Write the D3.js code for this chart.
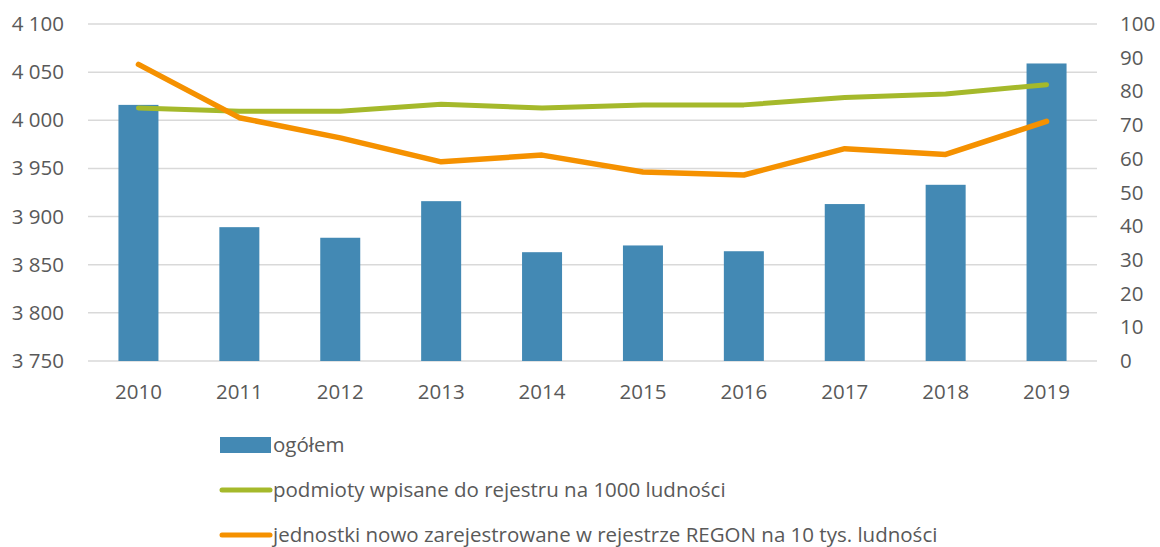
<!DOCTYPE html>
<html><head><meta charset="utf-8">
<script src="https://cdn.jsdelivr.net/npm/d3@7"></script>
<style>body{margin:0;background:#fff}text{font-family:"Open Sans",sans-serif;fill:#595959}</style>
</head><body><svg id="c" width="1160" height="547"></svg>
<script>
const years = ["2010","2011","2012","2013","2014","2015","2016","2017","2018","2019"];
const ogolem = [4016,3889,3878,3916,3863,3870,3864,3913,3933,4059];
const podmioty = [75.1,74.1,74.1,76.2,75.1,76.0,76.0,78.2,79.2,82.0];
const jednostki = [88.0,72.2,66.2,59.1,61.1,56.1,55.2,63.0,61.3,71.1];
const leftTicks = [3750,3800,3850,3900,3950,4000,4050,4100];
const rightTicks = [0,10,20,30,40,50,60,70,80,90,100];
const legendLabels = ["ogółem","podmioty wpisane do rejestru na 1000 ludności","jednostki nowo zarejestrowane w rejestrze REGON na 10 tys. ludności"];
const colors = ["#4389B4","#A5B92B","#F59100"];

const svg = d3.select("#c");
const L=88,R=1097,T=24,B=361;
const FS = "20.5px";
const yL = d3.scaleLinear().domain([3750,4100]).range([B,T]);
const yR = d3.scaleLinear().domain([0,100]).range([B,T]);
const fmt = v => d3.format(",")(v).replace(/,/g," ");

// grid
svg.append("g").selectAll("line").data(leftTicks).join("line")
  .attr("x1",L).attr("x2",R).attr("y1",d=>yL(d)).attr("y2",d=>yL(d))
  .attr("stroke","#D9D9D9").attr("stroke-width",1.5);

// left axis
const ga = svg.append("g").attr("transform",`translate(${L-24},0)`)
  .call(d3.axisLeft(yL).tickValues(leftTicks).tickFormat(fmt).tickSize(0).tickPadding(0));
ga.select(".domain").remove();
ga.selectAll("text").style("font-size",FS).style("font-family","'Open Sans',sans-serif").attr("fill","#595959");

// right axis
const gr = svg.append("g").attr("transform",`translate(${R+23},0)`)
  .call(d3.axisRight(yR).tickValues(rightTicks).tickSize(0).tickPadding(0));
gr.select(".domain").remove();
gr.selectAll("text").style("font-size",FS).style("font-family","'Open Sans',sans-serif").attr("fill","#595959");

// x axis
const xb = d3.scaleBand().domain(years).range([L,R]);
const gx = svg.append("g").attr("transform",`translate(0,${B})`)
  .call(d3.axisBottom(xb).tickSize(0).tickPadding(23));
gx.select(".domain").remove();
gx.selectAll("text").style("font-size",FS).style("font-family","'Open Sans',sans-serif").attr("fill","#595959");

// bars
svg.append("g").selectAll("rect").data(ogolem).join("rect")
  .attr("x",(d,i)=>xb(years[i])+xb.bandwidth()/2-20).attr("width",40)
  .attr("y",d=>yL(d)).attr("height",d=>B-yL(d)).attr("fill",colors[0]);

const cx = i => xb(years[i])+xb.bandwidth()/2;
const line = d3.line().x((d,i)=>cx(i)).y(d=>yR(d));
svg.append("path").datum(podmioty).attr("d",line).attr("fill","none")
  .attr("stroke",colors[1]).attr("stroke-width",5).attr("stroke-linecap","round").attr("stroke-linejoin","round");
svg.append("path").datum(jednostki).attr("d",line).attr("fill","none")
  .attr("stroke",colors[2]).attr("stroke-width",5.5).attr("stroke-linecap","round").attr("stroke-linejoin","round");

// legend
const lg = svg.append("g");
const ly = [445,490,535];
lg.append("rect").attr("x",220).attr("y",ly[0]-8).attr("width",51).attr("height",16).attr("fill",colors[0]);
[1,2].forEach(i=>{
  lg.append("line").attr("x1",222).attr("x2",270).attr("y1",ly[i]).attr("y2",ly[i])
    .attr("stroke",colors[i]).attr("stroke-width",5).attr("stroke-linecap","round");
});
legendLabels.forEach((t,i)=>{
  lg.append("text").attr("x",273).attr("y",ly[i]).attr("dy","0.35em")
    .style("font-size","20.5px").text(t);
});
</script></body></html>
